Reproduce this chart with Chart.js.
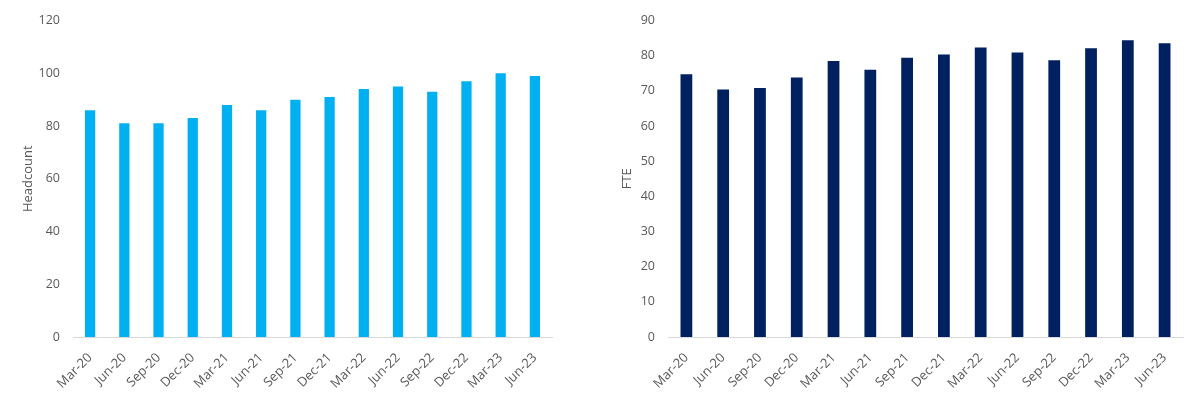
<!DOCTYPE html>
<html lang="en">
<head>
<meta charset="utf-8">
<title>Headcount and FTE</title>
<script src="https://cdn.jsdelivr.net/npm/chart.js@4.4.1/dist/chart.umd.min.js"></script>
<style>
  html, body { margin: 0; padding: 0; background: #fff; }
  .panel { position: absolute; top: 0; height: 399px; }
  #left { left: 0; width: 600px; }
  #right { left: 600px; width: 600px; }
</style>
</head>
<body>
<div class="panel" id="left"><canvas id="headcountChart"></canvas></div>
<div class="panel" id="right"><canvas id="fteChart"></canvas></div>
<script>
const quarters = ['Mar-20', 'Jun-20', 'Sep-20', 'Dec-20', 'Mar-21', 'Jun-21', 'Sep-21',
  'Dec-21', 'Mar-22', 'Jun-22', 'Sep-22', 'Dec-22', 'Mar-23', 'Jun-23'];
const headcount = [86, 81, 81, 83, 88, 86, 90, 91, 94, 95, 93, 97, 100, 99];
const fte = [74.7, 70.4, 70.8, 73.8, 78.5, 76.0, 79.4, 80.3, 82.3, 80.9, 78.7, 82.1, 84.4, 83.5];
const headcountTicks = { min: 0, max: 120, step: 20 };
const fteTicks = { min: 0, max: 90, step: 10 };

const textColor = '#595959';
const fontName = '"Open Sans", "DejaVu Sans", sans-serif';

function makeChart(canvasId, values, color, title, range, axisWidth, padRight, barPct, titlePad) {
  return new Chart(document.getElementById(canvasId), {
    type: 'bar',
    data: {
      labels: quarters,
      datasets: [{
        label: title,
        data: values,
        backgroundColor: color,
        borderWidth: 0,
        barPercentage: barPct,
        categoryPercentage: 1
      }]
    },
    options: {
      responsive: true,
      maintainAspectRatio: false,
      animation: false,
      layout: { padding: { top: 17, right: padRight, bottom: 0, left: 0 } },
      plugins: {
        legend: { display: false },
        tooltip: { enabled: false }
      },
      scales: {
        x: {
          grid: { display: false, drawTicks: false },
          border: { display: true, color: '#d9d9d9', width: 1 },
          ticks: {
            color: textColor,
            font: { family: fontName, size: 13 },
            minRotation: 45,
            maxRotation: 45,
            padding: 13
          },
          afterFit: function(scale) { scale.height = 62; }
        },
        y: {
          min: range.min,
          max: range.max,
          grid: { display: false, drawTicks: false },
          border: { display: false },
          ticks: {
            stepSize: range.step,
            color: textColor,
            font: { family: fontName, size: 12.5 },
            padding: 13
          },
          title: {
            display: true,
            text: title,
            color: textColor,
            font: { family: fontName, size: 13 },
            padding: { top: titlePad, bottom: 0 }
          },
          afterFit: function(scale) { scale.width = axisWidth; }
        }
      }
    }
  });
}

makeChart('headcountChart', headcount, '#00B0F0', 'Headcount', headcountTicks, 73, 48, 0.3, 20.7);
makeChart('fteChart', fte, '#002060', 'FTE', fteTicks, 68, 17, 0.32, 19.7);
</script>
</body>
</html>
